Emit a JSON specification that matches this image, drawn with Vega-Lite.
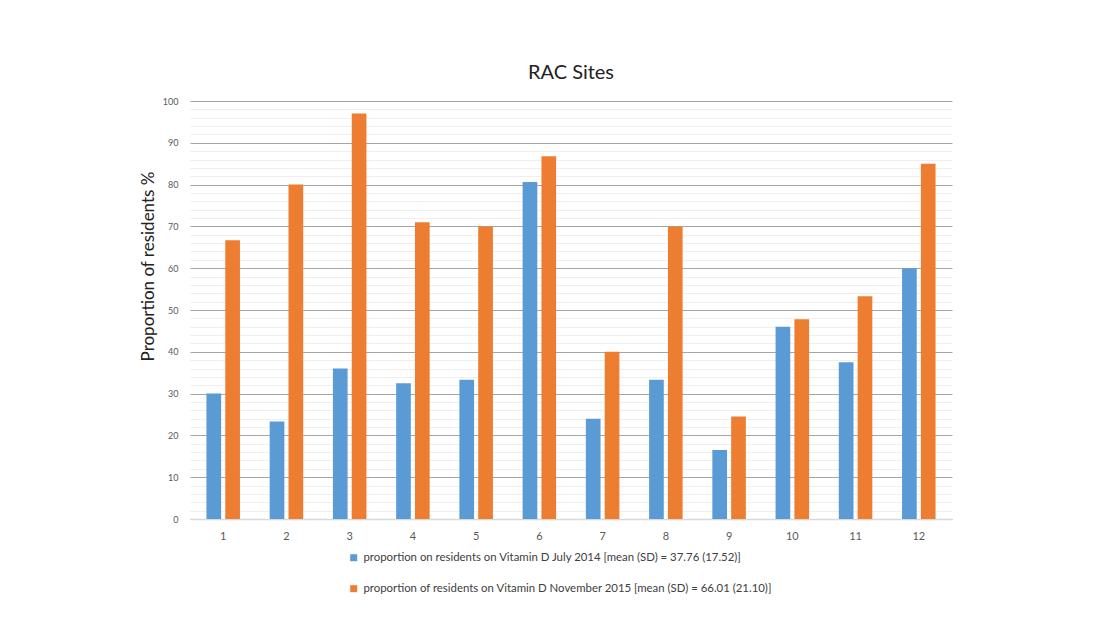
{
  "$schema": "https://vega.github.io/schema/vega-lite/v6.json",
  "autosize": {"type": "none"},
  "width": 762,
  "height": 418,
  "padding": {"left": 190, "top": 101, "right": 163, "bottom": 109},
  "background": "white",
  "title": {"text": "RAC Sites", "font": "Lato", "fontSize": 20, "fontWeight": "normal", "color": "#222222", "anchor": "middle", "offset": 14},
  "config": {"view": {"stroke": null}, "font": "Lato"},
  "data": {"values": [
    {"site": "1", "series": "proportion on residents on Vitamin D July 2014 [mean (SD) = 37.76 (17.52)]", "value": 30},
    {"site": "1", "series": "proportion of residents on Vitamin D November 2015 [mean (SD) = 66.01 (21.10)]", "value": 66.7},
    {"site": "2", "series": "proportion on residents on Vitamin D July 2014 [mean (SD) = 37.76 (17.52)]", "value": 23.3},
    {"site": "2", "series": "proportion of residents on Vitamin D November 2015 [mean (SD) = 66.01 (21.10)]", "value": 80},
    {"site": "3", "series": "proportion on residents on Vitamin D July 2014 [mean (SD) = 37.76 (17.52)]", "value": 36},
    {"site": "3", "series": "proportion of residents on Vitamin D November 2015 [mean (SD) = 66.01 (21.10)]", "value": 97},
    {"site": "4", "series": "proportion on residents on Vitamin D July 2014 [mean (SD) = 37.76 (17.52)]", "value": 32.5},
    {"site": "4", "series": "proportion of residents on Vitamin D November 2015 [mean (SD) = 66.01 (21.10)]", "value": 71},
    {"site": "5", "series": "proportion on residents on Vitamin D July 2014 [mean (SD) = 37.76 (17.52)]", "value": 33.3},
    {"site": "5", "series": "proportion of residents on Vitamin D November 2015 [mean (SD) = 66.01 (21.10)]", "value": 70},
    {"site": "6", "series": "proportion on residents on Vitamin D July 2014 [mean (SD) = 37.76 (17.52)]", "value": 80.6},
    {"site": "6", "series": "proportion of residents on Vitamin D November 2015 [mean (SD) = 66.01 (21.10)]", "value": 86.8},
    {"site": "7", "series": "proportion on residents on Vitamin D July 2014 [mean (SD) = 37.76 (17.52)]", "value": 24},
    {"site": "7", "series": "proportion of residents on Vitamin D November 2015 [mean (SD) = 66.01 (21.10)]", "value": 40},
    {"site": "8", "series": "proportion on residents on Vitamin D July 2014 [mean (SD) = 37.76 (17.52)]", "value": 33.3},
    {"site": "8", "series": "proportion of residents on Vitamin D November 2015 [mean (SD) = 66.01 (21.10)]", "value": 70},
    {"site": "9", "series": "proportion on residents on Vitamin D July 2014 [mean (SD) = 37.76 (17.52)]", "value": 16.5},
    {"site": "9", "series": "proportion of residents on Vitamin D November 2015 [mean (SD) = 66.01 (21.10)]", "value": 24.5},
    {"site": "10", "series": "proportion on residents on Vitamin D July 2014 [mean (SD) = 37.76 (17.52)]", "value": 46},
    {"site": "10", "series": "proportion of residents on Vitamin D November 2015 [mean (SD) = 66.01 (21.10)]", "value": 47.8},
    {"site": "11", "series": "proportion on residents on Vitamin D July 2014 [mean (SD) = 37.76 (17.52)]", "value": 37.5},
    {"site": "11", "series": "proportion of residents on Vitamin D November 2015 [mean (SD) = 66.01 (21.10)]", "value": 53.3},
    {"site": "12", "series": "proportion on residents on Vitamin D July 2014 [mean (SD) = 37.76 (17.52)]", "value": 60},
    {"site": "12", "series": "proportion of residents on Vitamin D November 2015 [mean (SD) = 66.01 (21.10)]", "value": 85}
  ]},
  "mark": {"type": "bar"},
  "encoding": {
    "x": {
      "field": "site", "type": "nominal", "sort": null,
      "scale": {"paddingInner": 0.47, "paddingOuter": 0.26},
      "axis": {"title": null, "labelAngle": 0, "ticks": false, "labelPadding": 11, "labelFontSize": 11, "labelColor": "#595959", "domainColor": "#d9d9d9", "domainWidth": 1.5, "grid": false}
    },
    "xOffset": {"field": "series", "type": "nominal", "sort": null, "scale": {"paddingInner": 0.22, "paddingOuter": 0}},
    "y": {
      "field": "value", "type": "quantitative",
      "scale": {"domain": [0, 100], "nice": false},
      "axis": {
        "title": "Proportion of residents %", "titleFontSize": 17, "titleFontWeight": "normal", "titleColor": "#222222", "titlePadding": 5, "titleY": 165,
        "values": [0,2,4,6,8,10,12,14,16,18,20,22,24,26,28,30,32,34,36,38,40,42,44,46,48,50,52,54,56,58,60,62,64,66,68,70,72,74,76,78,80,82,84,86,88,90,92,94,96,98,100],
        "labelExpr": "datum.value % 10 === 0 ? datum.label : ''",
        "labelFontSize": 9, "labelColor": "#595959", "labelPadding": 12,
        "ticks": false, "domain": false,
        "grid": true,
        "gridColor": {"condition": {"test": "datum.value % 10 === 0", "value": "#a6a6a6"}, "value": "#efefef"}
      }
    },
    "color": {
      "field": "series", "type": "nominal", "sort": null,
      "scale": {"range": ["#5b9bd5", "#ed7d31"]},
      "legend": {
        "title": null, "orient": "none", "direction": "vertical", "legendX": 158, "legendY": 451,
        "symbolType": "square", "symbolSize": 49, "symbolStrokeWidth": 0,
        "labelFontSize": 11.4, "labelColor": "#404040", "labelLimit": 600, "rowPadding": 18, "labelOffset": 4
      }
    }
  }
}
